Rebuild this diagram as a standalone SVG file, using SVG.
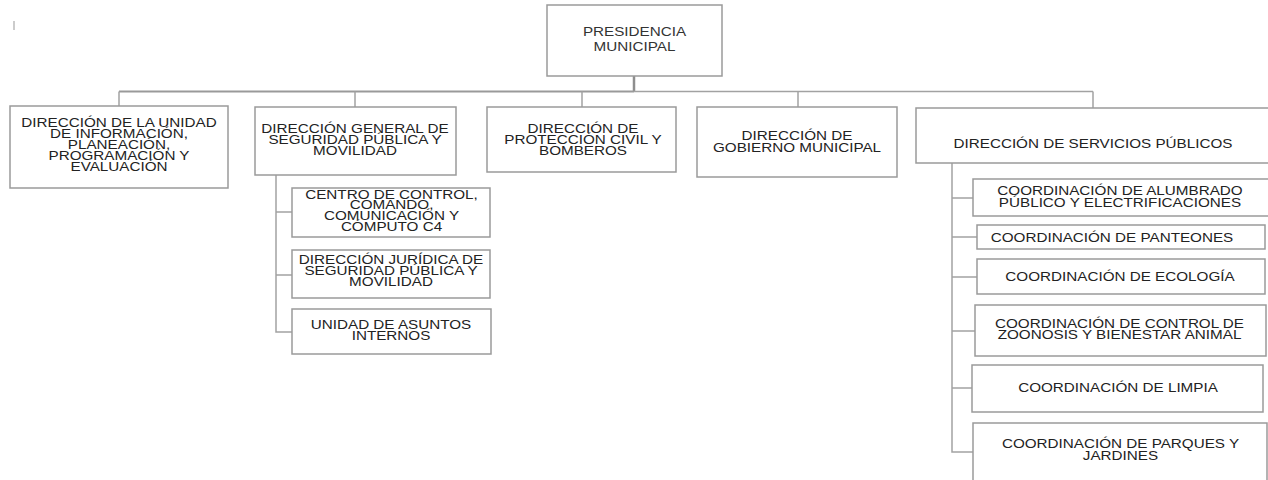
<svg xmlns="http://www.w3.org/2000/svg" width="1268" height="480" viewBox="0 0 1268 480">
<style>
.box{fill:#fff;stroke:#9a9a9a;stroke-width:1.5}
.ln{fill:none;stroke:#a2a2a2;stroke-width:1.5}
.t{font-family:"Liberation Sans",Arial,sans-serif;font-size:12.6px;fill:#222;text-anchor:middle}
</style>
<rect width="1268" height="480" fill="#fff"/>
<line x1="14" y1="21" x2="14" y2="30" stroke="#999" stroke-width="1"/>
<g id="connectors">
<line class="ln" x1="634" y1="76" x2="634" y2="92" style="stroke:#8e8e8e;stroke-width:2.5"/>
<line class="ln" x1="119" y1="91.5" x2="634" y2="91.5" style="stroke:#9a9a9a;stroke-width:2"/>
<line class="ln" x1="634" y1="91.5" x2="1093" y2="91.5"/>
<line class="ln" x1="119" y1="91.5" x2="119" y2="106"/>
<line class="ln" x1="355" y1="91.5" x2="355" y2="107"/>
<line class="ln" x1="582" y1="91.5" x2="582" y2="107"/>
<line class="ln" x1="798" y1="91.5" x2="798" y2="107"/>
<line class="ln" x1="1093" y1="91.5" x2="1093" y2="108"/>
<path class="ln" d="M276 175V332H292M276 212H292M276 275H292"/>
<path class="ln" d="M952 163V452H973M952 198H973M952 237H977M952 277H977M952 331H975M952 388H972"/>
</g>
<g id="presidencia">
<rect class="box" x="547" y="5" width="175" height="71"/>
<text class="t" transform="translate(634.5,36) scale(1.21 1)" style="fill:#333"><tspan x="0">PRESIDENCIA</tspan><tspan x="0" dy="15">MUNICIPAL</tspan></text>
</g>
<g id="d-informacion">
<rect class="box" x="10" y="106" width="218" height="82"/>
<text class="t" transform="translate(119,127) scale(1.21 1)"><tspan x="0">DIRECCIÓN DE LA UNIDAD</tspan><tspan x="0" dy="11">DE INFORMACIÓN,</tspan><tspan x="0" dy="11">PLANEACIÓN,</tspan><tspan x="0" dy="11">PROGRAMACIÓN Y</tspan><tspan x="0" dy="11">EVALUACIÓN</tspan></text>
</g>
<g id="d-seguridad">
<rect class="box" x="255" y="107" width="201" height="68"/>
<text class="t" transform="translate(355,133) scale(1.21 1)"><tspan x="0">DIRECCIÓN GENERAL DE</tspan><tspan x="0" dy="11">SEGURIDAD PÚBLICA Y</tspan><tspan x="0" dy="11">MOVILIDAD</tspan></text>
</g>
<g id="d-proteccion">
<rect class="box" x="487" y="107" width="189" height="65"/>
<text class="t" transform="translate(583,133) scale(1.21 1)"><tspan x="0">DIRECCIÓN DE</tspan><tspan x="0" dy="11">PROTECCIÓN CIVIL Y</tspan><tspan x="0" dy="11">BOMBEROS</tspan></text>
</g>
<g id="d-gobierno">
<rect class="box" x="697" y="107" width="200" height="70"/>
<text class="t" transform="translate(797,140) scale(1.21 1)"><tspan x="0">DIRECCIÓN DE</tspan><tspan x="0" dy="11.5">GOBIERNO MUNICIPAL</tspan></text>
</g>
<g id="d-servicios">
<rect class="box" x="916" y="108" width="360" height="55"/>
<text class="t" transform="translate(1093,148) scale(1.21 1)">DIRECCIÓN DE SERVICIOS PÚBLICOS</text>
</g>
<g id="c4">
<rect class="box" x="292" y="188" width="198" height="49"/>
<text class="t" transform="translate(391.5,198.5) scale(1.21 1)"><tspan x="0">CENTRO DE CONTROL,</tspan><tspan x="0" dy="10.7">COMANDO,</tspan><tspan x="0" dy="10.7">COMUNICACIÓN Y</tspan><tspan x="0" dy="10.7">CÓMPUTO C4</tspan></text>
</g>
<g id="juridica">
<rect class="box" x="292" y="250" width="198" height="48"/>
<text class="t" transform="translate(391,264) scale(1.21 1)"><tspan x="0">DIRECCIÓN JURÍDICA DE</tspan><tspan x="0" dy="11.2">SEGURIDAD PÚBLICA Y</tspan><tspan x="0" dy="11.2">MOVILIDAD</tspan></text>
</g>
<g id="asuntos">
<rect class="box" x="292" y="309" width="199" height="45"/>
<text class="t" transform="translate(391,328.5) scale(1.21 1)"><tspan x="0">UNIDAD DE ASUNTOS</tspan><tspan x="0" dy="11.5">INTERNOS</tspan></text>
</g>
<g id="alumbrado">
<rect class="box" x="973" y="179" width="300" height="37"/>
<text class="t" transform="translate(1120,195) scale(1.21 1)"><tspan x="0">COORDINACIÓN DE ALUMBRADO</tspan><tspan x="0" dy="11.5">PÚBLICO  Y ELECTRIFICACIONES</tspan></text>
</g>
<g id="panteones">
<rect class="box" x="977" y="225" width="288" height="24"/>
<text class="t" transform="translate(1112,242) scale(1.21 1)">COORDINACIÓN DE PANTEONES</text>
</g>
<g id="ecologia">
<rect class="box" x="977" y="259" width="288" height="35"/>
<text class="t" transform="translate(1120,280.5) scale(1.21 1)">COORDINACIÓN DE ECOLOGÍA</text>
</g>
<g id="zoonosis">
<rect class="box" x="975" y="305" width="291" height="51"/>
<text class="t" transform="translate(1119.5,327.5) scale(1.21 1)"><tspan x="0">COORDINACIÓN DE CONTROL DE</tspan><tspan x="0" dy="12">ZOONOSIS Y BIENESTAR ANIMAL</tspan></text>
</g>
<g id="limpia">
<rect class="box" x="972" y="365" width="291" height="47"/>
<text class="t" transform="translate(1118,391.5) scale(1.21 1)">COORDINACIÓN DE LIMPIA</text>
</g>
<g id="parques">
<rect class="box" x="973" y="423" width="294" height="70"/>
<text class="t" transform="translate(1120.5,447.5) scale(1.21 1)"><tspan x="0">COORDINACIÓN DE PARQUES Y</tspan><tspan x="0" dy="12.5">JARDINES</tspan></text>
</g>
</svg>
